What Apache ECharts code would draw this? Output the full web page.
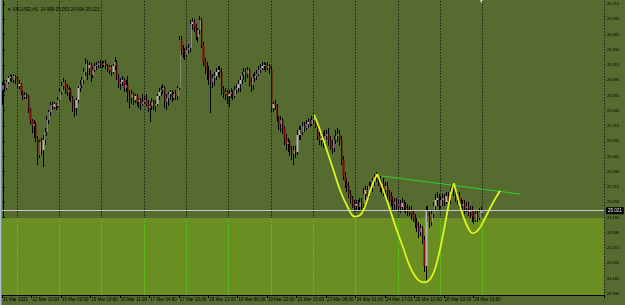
<!DOCTYPE html>
<html>
<head>
  <meta charset="utf-8">
  <title>XAGUSD,H1</title>
  <script src="https://cdn.jsdelivr.net/npm/echarts@6/dist/echarts.min.js"></script>
  <style>
    html, body { margin: 0; padding: 0; background: #556b2f; }
  </style>
</head>
<body>
  <div id="main" style="width:625px;height:305px;"></div>
  <script type="text/javascript">
    // tick labels on the time axis, one every 16 bars
    var timeLabels = ['11 Mar 2021', '12 Mar 10:00', '15 Mar 02:00', '15 Mar 18:00', '16 Mar 11:00',
      '17 Mar 04:00', '17 Mar 20:00', '18 Mar 13:00', '19 Mar 06:00', '19 Mar 22:00', '22 Mar 15:00',
      '23 Mar 08:00', '24 Mar 01:00', '24 Mar 17:00', '25 Mar 10:00', '26 Mar 03:00', '26 Mar 19:00'];
    var labelStep = 16;
    // price scale labels
    var priceTicks = [24.340, 24.465, 24.590, 24.715, 24.840, 24.965, 25.090, 25.215, 25.340, 25.465,
      25.590, 25.715, 25.840, 25.965, 26.090, 26.215, 26.340, 26.465, 26.590, 26.715];
    // bars where a new trading day starts (dotted separators)
    var dayStarts = [8, 31, 54, 77, 100, 123, 146, 169, 192, 215, 238, 261];
    var slotCount = 327; // bars + empty chart shift on the right
    var bidPrice = 25.021;
    var zoneTop = 24.960;
    var priceMin = 24.329, priceMax = 26.740;

    // hourly candles: [open, close, low, high]
    var candles = [
      [26.010, 26.051, 25.887, 26.076], [26.051, 26.026, 25.994, 26.067], [26.026, 26.076, 26.010, 26.092],
      [26.076, 26.108, 26.059, 26.125], [26.108, 26.117, 26.084, 26.141], [26.117, 26.092, 26.076, 26.133],
      [26.092, 26.125, 26.067, 26.141], [26.125, 26.100, 26.059, 26.133], [26.100, 26.043, 26.026, 26.117],
      [26.043, 26.059, 26.018, 26.092], [26.059, 25.994, 25.969, 26.067], [25.994, 25.953, 25.928, 26.010],
      [25.953, 25.969, 25.936, 25.994], [25.969, 25.961, 25.936, 25.985], [25.961, 25.846, 25.821, 25.969],
      [25.846, 25.756, 25.731, 25.862], [25.756, 25.715, 25.657, 25.772], [25.715, 25.731, 25.616, 25.764],
      [25.731, 25.616, 25.584, 25.748], [25.616, 25.477, 25.395, 25.633], [25.477, 25.584, 25.452, 25.600],
      [25.584, 25.518, 25.477, 25.616], [25.518, 25.600, 25.379, 25.641], [25.600, 25.666, 25.559, 25.698],
      [25.666, 25.764, 25.633, 25.797], [25.764, 25.830, 25.731, 25.846], [25.830, 25.887, 25.797, 25.912],
      [25.887, 25.871, 25.846, 25.912], [25.871, 25.895, 25.854, 25.912], [25.895, 25.879, 25.846, 25.903],
      [25.879, 25.928, 25.862, 25.953], [25.928, 25.994, 25.912, 26.026], [25.994, 26.043, 25.969, 26.076],
      [26.043, 26.076, 26.010, 26.108], [26.076, 26.026, 25.977, 26.092], [26.026, 25.994, 25.961, 26.059],
      [25.994, 26.010, 25.928, 26.043], [26.010, 25.944, 25.912, 26.026], [25.944, 25.887, 25.830, 25.961],
      [25.887, 25.862, 25.789, 25.928], [25.862, 25.928, 25.805, 25.944], [25.928, 26.026, 25.903, 26.043],
      [26.026, 26.051, 25.994, 26.092], [26.051, 26.092, 26.026, 26.117], [26.092, 26.158, 26.059, 26.190],
      [26.158, 26.223, 26.125, 26.272], [26.223, 26.190, 26.092, 26.256], [26.190, 26.215, 26.133, 26.240],
      [26.215, 26.133, 26.076, 26.232], [26.133, 26.174, 26.108, 26.207], [26.174, 26.207, 26.158, 26.232],
      [26.207, 26.215, 26.174, 26.240], [26.215, 26.232, 26.190, 26.248], [26.232, 26.223, 26.190, 26.256],
      [26.223, 26.215, 26.190, 26.248], [26.215, 26.232, 26.199, 26.248], [26.232, 26.207, 26.182, 26.256],
      [26.207, 26.174, 26.158, 26.223], [26.174, 26.199, 26.141, 26.215], [26.199, 26.158, 26.125, 26.215],
      [26.158, 26.207, 26.141, 26.223], [26.207, 26.240, 26.174, 26.281], [26.240, 26.125, 26.092, 26.256],
      [26.125, 26.059, 26.026, 26.141], [26.059, 26.076, 26.010, 26.108], [26.076, 26.092, 26.043, 26.125],
      [26.092, 26.026, 25.994, 26.108], [26.026, 26.051, 25.994, 26.092], [26.051, 25.969, 25.912, 26.125],
      [25.969, 25.944, 25.862, 26.010], [25.944, 25.977, 25.895, 26.010], [25.977, 25.928, 25.887, 25.994],
      [25.928, 25.961, 25.903, 25.977], [25.961, 25.912, 25.879, 25.977], [25.912, 25.928, 25.862, 25.944],
      [25.928, 25.895, 25.846, 25.944], [25.895, 25.912, 25.879, 25.977], [25.912, 25.928, 25.895, 25.961],
      [25.928, 25.895, 25.879, 25.977], [25.895, 25.862, 25.830, 25.928], [25.862, 25.879, 25.748, 25.912],
      [25.879, 25.912, 25.846, 25.944], [25.912, 25.879, 25.846, 25.928], [25.879, 25.895, 25.830, 25.928],
      [25.895, 25.961, 25.879, 25.977], [25.961, 25.994, 25.928, 26.026], [25.994, 26.010, 25.961, 26.043],
      [26.010, 26.026, 25.977, 26.059], [26.026, 25.912, 25.862, 26.043], [25.912, 25.944, 25.846, 25.977],
      [25.944, 25.977, 25.879, 25.994], [25.977, 25.994, 25.928, 26.010], [25.994, 25.944, 25.912, 26.010],
      [25.944, 25.977, 25.928, 25.994], [25.977, 25.961, 25.928, 26.010], [25.961, 26.026, 25.928, 26.043],
      [26.026, 26.420, 26.010, 26.453], [26.420, 26.338, 26.297, 26.453], [26.338, 26.322, 26.272, 26.379],
      [26.322, 26.297, 26.256, 26.354], [26.297, 26.338, 26.281, 26.371], [26.338, 26.354, 26.305, 26.387],
      [26.354, 26.551, 26.322, 26.584], [26.551, 26.568, 26.502, 26.600], [26.568, 26.527, 26.486, 26.592],
      [26.527, 26.445, 26.420, 26.551], [26.445, 26.502, 26.404, 26.518], [26.502, 26.584, 26.469, 26.617],
      [26.584, 26.379, 26.354, 26.600], [26.379, 26.240, 26.207, 26.404], [26.240, 26.207, 26.141, 26.272],
      [26.207, 26.158, 26.092, 26.240], [26.158, 26.133, 26.051, 26.207], [26.133, 26.076, 25.821, 26.174],
      [26.076, 26.108, 26.026, 26.141], [26.108, 26.125, 26.043, 26.158], [26.125, 26.158, 26.092, 26.190],
      [26.158, 26.174, 26.125, 26.207], [26.174, 26.158, 26.108, 26.207], [26.158, 26.010, 25.969, 26.190],
      [26.010, 25.977, 25.944, 26.043], [25.977, 25.994, 25.928, 26.026], [25.994, 25.961, 25.895, 26.010],
      [25.961, 25.977, 25.871, 26.010], [25.977, 25.994, 25.944, 26.026], [25.994, 25.961, 25.928, 26.010],
      [25.961, 26.010, 25.944, 26.043], [26.010, 26.026, 25.977, 26.059], [26.026, 26.059, 25.994, 26.092],
      [26.059, 26.092, 25.994, 26.125], [26.092, 26.133, 26.059, 26.158], [26.133, 26.158, 26.092, 26.190],
      [26.158, 26.141, 26.076, 26.190], [26.141, 26.174, 26.108, 26.199], [26.174, 26.076, 26.043, 26.190],
      [26.076, 26.051, 25.994, 26.108], [26.051, 26.108, 26.010, 26.141], [26.108, 26.125, 26.076, 26.158],
      [26.125, 26.141, 26.092, 26.174], [26.141, 26.174, 26.125, 26.207], [26.174, 26.190, 26.149, 26.223],
      [26.190, 26.207, 26.174, 26.240], [26.207, 26.215, 26.174, 26.240], [26.215, 26.190, 26.158, 26.232],
      [26.190, 26.207, 26.174, 26.240], [26.207, 26.174, 26.141, 26.223], [26.174, 25.862, 25.830, 26.207],
      [25.862, 25.895, 25.830, 25.912], [25.895, 25.879, 25.846, 25.928], [25.879, 25.780, 25.748, 25.895],
      [25.780, 25.731, 25.682, 25.797], [25.731, 25.764, 25.666, 25.797], [25.764, 25.698, 25.649, 25.780],
      [25.698, 25.616, 25.559, 25.715], [25.616, 25.567, 25.518, 25.649], [25.567, 25.584, 25.502, 25.616],
      [25.584, 25.518, 25.469, 25.600], [25.518, 25.485, 25.436, 25.551], [25.485, 25.518, 25.395, 25.551],
      [25.518, 25.502, 25.452, 25.551], [25.502, 25.641, 25.477, 25.682], [25.641, 25.682, 25.600, 25.715],
      [25.682, 25.666, 25.600, 25.715], [25.666, 25.715, 25.641, 25.748], [25.715, 25.698, 25.666, 25.748],
      [25.698, 25.731, 25.682, 25.764], [25.731, 25.748, 25.698, 25.780], [25.748, 25.731, 25.707, 25.772],
      [25.731, 25.764, 25.715, 25.797], [25.764, 25.780, 25.731, 25.813], [25.780, 25.715, 25.698, 25.797],
      [25.715, 25.633, 25.600, 25.731], [25.633, 25.600, 25.559, 25.666], [25.600, 25.616, 25.551, 25.649],
      [25.616, 25.584, 25.534, 25.666], [25.584, 25.633, 25.551, 25.682], [25.633, 25.649, 25.600, 25.682],
      [25.649, 25.600, 25.551, 25.698], [25.600, 25.551, 25.518, 25.633], [25.551, 25.534, 25.485, 25.600],
      [25.534, 25.600, 25.502, 25.633], [25.600, 25.633, 25.567, 25.682], [25.633, 25.649, 25.584, 25.698],
      [25.649, 25.600, 25.551, 25.682], [25.600, 25.436, 25.395, 25.633], [25.436, 25.305, 25.272, 25.469],
      [25.305, 25.256, 25.206, 25.338], [25.256, 25.223, 25.174, 25.288], [25.223, 25.157, 25.124, 25.256],
      [25.157, 25.124, 25.075, 25.190], [25.124, 25.075, 25.042, 25.141], [25.075, 25.059, 25.010, 25.108],
      [25.059, 25.075, 25.026, 25.108], [25.075, 25.051, 25.010, 25.108], [25.051, 25.092, 25.026, 25.124],
      [25.092, 25.075, 25.010, 25.124], [25.075, 25.157, 25.042, 25.206], [25.157, 25.190, 25.108, 25.223],
      [25.190, 25.141, 25.092, 25.223], [25.141, 25.223, 25.124, 25.256], [25.223, 25.206, 25.157, 25.256],
      [25.206, 25.256, 25.174, 25.288], [25.256, 25.288, 25.223, 25.321], [25.288, 25.305, 25.256, 25.338],
      [25.305, 25.272, 25.223, 25.321], [25.272, 25.206, 25.174, 25.305], [25.206, 25.239, 25.157, 25.272],
      [25.239, 25.190, 25.141, 25.288], [25.190, 25.223, 25.141, 25.256], [25.223, 25.157, 25.108, 25.256],
      [25.157, 25.141, 25.092, 25.190], [25.141, 25.108, 25.059, 25.174], [25.108, 25.075, 25.026, 25.141],
      [25.075, 25.092, 25.026, 25.124], [25.092, 25.059, 25.026, 25.124], [25.059, 25.075, 25.010, 25.108],
      [25.075, 25.051, 25.001, 25.108], [25.051, 25.083, 25.026, 25.124], [25.083, 25.059, 25.010, 25.108],
      [25.059, 25.042, 24.993, 25.092], [25.042, 25.010, 24.977, 25.075], [25.010, 25.026, 24.977, 25.059],
      [25.026, 24.993, 24.944, 25.059], [24.993, 24.960, 24.928, 25.026], [24.960, 24.928, 24.878, 24.993],
      [24.928, 24.895, 24.846, 24.960], [24.895, 24.846, 24.796, 24.928], [24.846, 24.878, 24.813, 24.911],
      [24.878, 24.780, 24.747, 24.895], [24.780, 24.567, 24.518, 24.813], [24.567, 25.026, 24.436, 25.059],
      [25.026, 24.977, 24.928, 25.059], [24.977, 24.928, 24.878, 25.010], [24.928, 24.993, 24.895, 25.026],
      [24.993, 25.059, 24.960, 25.092], [25.059, 25.108, 25.026, 25.157], [25.108, 25.124, 25.059, 25.174],
      [25.124, 25.059, 25.026, 25.157], [25.059, 25.108, 25.042, 25.141], [25.108, 25.124, 25.059, 25.157],
      [25.124, 25.092, 25.059, 25.157], [25.092, 25.141, 25.075, 25.174], [25.141, 25.108, 25.059, 25.174],
      [25.108, 25.174, 25.075, 25.206], [25.174, 25.206, 25.141, 25.239], [25.206, 25.190, 25.141, 25.239],
      [25.190, 25.124, 25.092, 25.223], [25.124, 25.141, 25.075, 25.174], [25.141, 25.092, 25.042, 25.174],
      [25.092, 25.059, 25.010, 25.124], [25.059, 25.075, 25.026, 25.108], [25.075, 25.042, 24.993, 25.108],
      [25.042, 25.059, 25.010, 25.092], [25.059, 25.010, 24.977, 25.092], [25.010, 25.026, 24.960, 25.059],
      [25.026, 24.977, 24.928, 25.059], [24.977, 24.944, 24.911, 25.026], [24.944, 24.993, 24.928, 25.026],
      [24.993, 24.960, 24.928, 25.026], [24.960, 25.010, 24.944, 25.042], [24.999, 25.021, 24.994, 25.053]
    ];

    // hand drawn curve (bar index, price), three arcs meeting at the peaks
    var curveArcs = [
      [[169.0, 25.807], [172.2, 25.682], [175.9, 25.518], [179.5, 25.354], [183.1, 25.190], [186.7, 25.067],
       [191.2, 24.971], [194.9, 24.999], [198.5, 25.135], [201.2, 25.258], [203.4, 25.321]],
      [[203.4, 25.321], [206.6, 25.190], [210.3, 25.026], [213.9, 24.862], [217.5, 24.712], [221.1, 24.561],
       [224.8, 24.466], [228.7, 24.433], [232.9, 24.479], [236.5, 24.643], [239.2, 24.835], [241.9, 25.053],
       [243.8, 25.190], [245.0, 25.245]],
      [[245.0, 25.245], [247.4, 25.108], [250.1, 24.971], [252.8, 24.876], [255.2, 24.835], [258.2, 24.862],
       [261.9, 24.958], [265.5, 25.067], [270.0, 25.184]]
    ];
    // neckline
    var trendLine = [[205.7, 25.305], [280.9, 25.157]];

    var categories = [];
    for (var i = 0; i < slotCount; i++) categories.push(String(i));

    function isLabelBar(i) {
      return i % labelStep === 0 && i / labelStep < timeLabels.length;
    }

    var myChart = echarts.init(document.getElementById('main'));
    var fontFam = '"Liberation Sans", Arial, sans-serif';

    var curveSeries = curveArcs.map(function (arc) {
      return {
        type: 'line', xAxisIndex: 1, data: arc, smooth: 0.4, showSymbol: false, z: 6,
        lineStyle: { color: '#dcf51e', width: 1.8 }, silent: true
      };
    });

    var option = {
      animation: false,
      backgroundColor: '#556b2f',
      title: {
        text: '\u25BE XAGUSD,H1  24.999 25.053 24.994 25.021',
        left: 3, top: 2,
        textStyle: { fontSize: 4.5, fontWeight: 'normal', color: '#000', fontFamily: fontFam }
      },
      grid: { left: 2, right: 21, top: 1, bottom: 10, containLabel: false },
      xAxis: [{
        type: 'category',
        data: categories,
        boundaryGap: true,
        axisLine: { lineStyle: { color: '#000', width: 1 } },
        axisTick: { show: true, interval: function (i) { return isLabelBar(i); }, length: 3, lineStyle: { color: '#000' } },
        axisLabel: {
          interval: function (i) { return isLabelBar(i); },
          formatter: function (v) { return timeLabels[+v / labelStep] || ''; },
          align: 'left', margin: 2, fontSize: 4.5, color: '#000', fontFamily: fontFam
        },
        splitLine: {
          show: true,
          interval: function (i) { return dayStarts.indexOf(i) >= 0; },
          lineStyle: { color: '#111', type: [1.5, 1.5], width: 0.8 }
        }
      }, {
        type: 'value', min: -0.5, max: slotCount - 0.5, show: false
      }],
      yAxis: {
        type: 'value',
        position: 'right',
        min: priceMin, max: priceMax,
        axisLine: { show: true, lineStyle: { color: '#000', width: 1 } },
        axisTick: { show: true, length: 2, customValues: priceTicks, lineStyle: { color: '#000' } },
        axisLabel: {
          customValues: priceTicks, margin: 3, fontSize: 4, color: '#000', fontFamily: fontFam,
          formatter: function (v) { return v.toFixed(3); }
        },
        splitLine: { show: false }
      },
      series: [{
        // lighter zone below the neck area
        type: 'line', xAxisIndex: 1, data: [], z: 1, silent: true,
        markArea: {
          silent: true,
          itemStyle: { color: '#6b8e23', opacity: 1 },
          data: [[{ yAxis: zoneTop }, { yAxis: priceMin }]]
        }
      }, {
        // day separators inside the zone
        type: 'line', xAxisIndex: 1, data: [], z: 2, silent: true,
        markLine: {
          silent: true, symbol: 'none', label: { show: false },
          lineStyle: { color: '#4fd51c', type: [1.5, 1.5], width: 1 },
          data: dayStarts.map(function (d) {
            return [{ coord: [d - 0.5, zoneTop] }, { coord: [d - 0.5, priceMin] }];
          })
        }
      }, {
        // wicks
        type: 'candlestick', data: candles, barWidth: 0.6, z: 3, silent: true,
        itemStyle: { color: '#000', color0: '#000', borderColor: '#000', borderColor0: '#000', borderWidth: 1 }
      }, {
        // bodies
        type: 'candlestick', data: candles, barWidth: 1.8, z: 4, silent: true,
        itemStyle: { color: '#b4b4b4', color0: '#7a0c0c', borderColor: '#b4b4b4', borderColor0: '#7a0c0c', borderWidth: 0 }
      }, {
        // bid line
        type: 'line', xAxisIndex: 1, data: [], z: 5, silent: true,
        markLine: {
          silent: true, symbol: 'none',
          lineStyle: { color: '#c8c8c8', type: 'solid', width: 1 },
          label: {
            show: true, position: 'end', distance: 2,
            formatter: bidPrice.toFixed(3),
            backgroundColor: '#000', color: '#fff', fontSize: 4.5, padding: [1, 2], fontFamily: fontFam
          },
          data: [{ yAxis: bidPrice }]
        }
      }, {
        type: 'line', xAxisIndex: 1, data: trendLine, showSymbol: false, z: 6, silent: true,
        lineStyle: { color: '#2fd02f', width: 1 }
      }].concat(curveSeries),
      graphic: [{
        type: 'rect', left: 0, top: 0, shape: { width: 1.5, height: 305 }, style: { fill: '#a8c0d0' }
      }, {
        type: 'text', left: 479, top: -1, style: { text: '\u25BC', fontSize: 5, fill: '#e8e8e8' }
      }]
    };

    myChart.setOption(option);
  </script>
</body>
</html>
